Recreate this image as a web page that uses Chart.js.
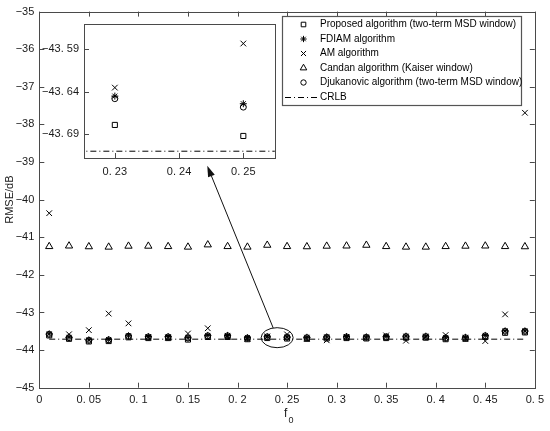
<!DOCTYPE html>
<html>
<head>
<meta charset="utf-8">
<script src="https://cdn.jsdelivr.net/npm/chart.js"></script>
<style>
    html, body { margin: 0; padding: 0; background: #fff; }
    #wrap { position: relative; width: 550px; height: 431px; }
    #mainChart { position: absolute; left: 0; top: 0; }
    #insetChart { position: absolute; left: 40px; top: 12px; }
</style>
</head>
<body>
<div id="wrap">
    <canvas id="mainChart" width="550" height="431"></canvas>
    <canvas id="insetChart" width="240" height="172"></canvas>
</div>
<script>
// f0 values and RMSE (dB)
const freqs = [0.01, 0.03, 0.05, 0.07, 0.09, 0.11, 0.13, 0.15, 0.17, 0.19, 0.21, 0.23, 0.25,
    0.27, 0.29, 0.31, 0.33, 0.35, 0.37, 0.39, 0.41, 0.43, 0.45, 0.47, 0.49];

const proposed = [-43.61, -43.70, -43.77, -43.76, -43.66, -43.68, -43.68, -43.72, -43.65, -43.65,
    -43.71, -43.679, -43.692, -43.70, -43.69, -43.68, -43.69, -43.68, -43.67, -43.67, -43.71, -43.70,
    -43.65, -43.54, -43.53];
const fdiam = [-43.57, -43.66, -43.73, -43.72, -43.62, -43.64, -43.64, -43.67, -43.61, -43.61,
    -43.67, -43.645, -43.654, -43.66, -43.65, -43.64, -43.65, -43.64, -43.63, -43.63, -43.67, -43.66,
    -43.61, -43.49, -43.49];
const am = [-40.36, -43.58, -43.47, -43.03, -43.29, -43.66, -43.67, -43.56, -43.42, -43.64,
    -43.70, -43.635, -43.583, -43.70, -43.74, -43.66, -43.68, -43.61, -43.75, -43.66, -43.60, -43.69,
    -43.76, -43.05, -37.69];
const candan = [-41.245, -41.23, -41.25, -41.26, -41.235, -41.235, -41.245, -41.26, -41.20, -41.245,
    -41.26, -41.21, -41.245, -41.25, -41.235, -41.23, -41.21, -41.245, -41.26, -41.26, -41.245, -41.235,
    -41.23, -41.245, -41.25];
const djukanovic = [-43.58, -43.67, -43.74, -43.73, -43.63, -43.65, -43.65, -43.68, -43.62, -43.62,
    -43.68, -43.648, -43.658, -43.67, -43.66, -43.65, -43.66, -43.65, -43.64, -43.64, -43.68, -43.67,
    -43.62, -43.50, -43.50];
const crlb = [-43.71, -43.71, -43.71, -43.71, -43.71, -43.71, -43.71, -43.71, -43.71, -43.71,
    -43.71, -43.71, -43.71, -43.71, -43.71, -43.71, -43.71, -43.71, -43.71, -43.71, -43.71, -43.71,
    -43.71, -43.71, -43.71];

const xTickValues = [0, 0.05, 0.1, 0.15, 0.2, 0.25, 0.3, 0.35, 0.4, 0.45, 0.5];
const xTickLabels = ['0', '0. 05', '0. 1', '0. 15', '0. 2', '0. 25', '0. 3', '0. 35', '0. 4', '0. 45', '0. 5'];
const yTickValues = [-45, -44, -43, -42, -41, -40, -39, -38, -37, -36, -35];
const yTickLabels = ['−45', '−44', '−43', '−42', '−41', '−40', '−39', '−38', '−37', '−36', '−35'];

const insetXTickValues = [0.23, 0.24, 0.25];
const insetXTickLabels = ['0. 23', '0. 24', '0. 25'];
const insetYTickValues = [-43.69, -43.64, -43.59];
const insetYTickLabels = ['−43. 69', '−43. 64', '−43. 59'];

const FONT = '"Liberation Sans", Arial, sans-serif';
const AXIS_COLOR = '#4a4a4a';
Chart.defaults.font.family = FONT;
Chart.defaults.font.size = 11;
Chart.defaults.color = '#1a1a1a';

function toPoints(values) {
    return freqs.map((f, i) => ({ x: f, y: values[i] }));
}

function buildDatasets() {
    const marker = (label, values, style, radius) => ({
        label: label,
        data: toPoints(values),
        showLine: false,
        pointStyle: style,
        pointRadius: radius,
        pointBorderWidth: 1,
        borderColor: '#000',
        backgroundColor: 'rgba(0,0,0,0)',
    });
    return [
        marker('Proposed algorithm (two-term MSD window)', proposed, 'rect', 3.6),
        marker('FDIAM algorithm', fdiam, 'star', 3.5),
        marker('AM algorithm', am, 'crossRot', 4),
        marker('Candan algorithm (Kaiser window)', candan, 'triangle', 4.2),
        marker('Djukanovic algorithm (two-term MSD window)', djukanovic, 'circle', 3),
        {
            label: 'CRLB',
            data: toPoints(crlb),
            showLine: true,
            pointRadius: 0,
            borderColor: '#000',
            borderWidth: 1,
            borderDash: [6, 3, 1, 3],
            backgroundColor: 'rgba(0,0,0,0)',
        },
    ];
}

// Box around the plot area with MATLAB style inward ticks
function framePlugin(sides, fillWhite) {
    return {
        id: 'frame',
        beforeDatasetsDraw(chart) {
            if (!fillWhite) return;
            const a = chart.chartArea;
            chart.ctx.save();
            chart.ctx.fillStyle = '#fff';
            chart.ctx.fillRect(a.left, a.top, a.right - a.left, a.bottom - a.top);
            chart.ctx.restore();
        },
        afterDatasetsDraw(chart) {
            const ctx = chart.ctx;
            const a = chart.chartArea;
            const len = 5;
            ctx.save();
            ctx.strokeStyle = AXIS_COLOR;
            ctx.lineWidth = 1;
            ctx.beginPath();
            chart.scales.x.ticks.forEach((t) => {
                const px = Math.round(chart.scales.x.getPixelForValue(t.value)) + 0.5;
                if (sides.includes('bottom')) { ctx.moveTo(px, a.bottom); ctx.lineTo(px, a.bottom - len); }
                if (sides.includes('top')) { ctx.moveTo(px, a.top); ctx.lineTo(px, a.top + len); }
            });
            chart.scales.y.ticks.forEach((t) => {
                const py = Math.round(chart.scales.y.getPixelForValue(t.value)) + 0.5;
                if (sides.includes('left')) { ctx.moveTo(a.left, py); ctx.lineTo(a.left + len, py); }
                if (sides.includes('right')) { ctx.moveTo(a.right, py); ctx.lineTo(a.right - len, py); }
            });
            ctx.stroke();
            ctx.strokeRect(Math.round(a.left) + 0.5, Math.round(a.top) + 0.5,
                Math.round(a.right - a.left), Math.round(a.bottom - a.top));
            ctx.restore();
        },
    };
}

// Ellipse around the zoomed region and the arrow to the inset
const zoomMarkPlugin = {
    id: 'zoomMark',
    afterDatasetsDraw(chart) {
        const ctx = chart.ctx;
        const xs = chart.scales.x;
        const ys = chart.scales.y;
        const cx = xs.getPixelForValue(0.24);
        const cy = ys.getPixelForValue(-43.67);
        const rx = 16;
        const ry = 10;
        const tipX = xs.getPixelForValue(0.1695);
        const tipY = ys.getPixelForValue(-39.1);

        ctx.save();
        ctx.strokeStyle = '#111';
        ctx.fillStyle = '#111';
        ctx.lineWidth = 1;
        ctx.beginPath();
        ctx.ellipse(cx, cy, rx, ry, 0, 0, Math.PI * 2);
        ctx.stroke();

        const dx = tipX - cx;
        const dy = tipY - cy;
        const t = 1 / Math.sqrt((dx / rx) * (dx / rx) + (dy / ry) * (dy / ry));
        const sx = cx + dx * t;
        const sy = cy + dy * t;
        const ang = Math.atan2(tipY - sy, tipX - sx);
        const headLen = 11;
        const headHalf = 3.6;
        const bx = tipX - Math.cos(ang) * headLen;
        const by = tipY - Math.sin(ang) * headLen;

        ctx.beginPath();
        ctx.moveTo(sx, sy);
        ctx.lineTo(bx, by);
        ctx.stroke();
        ctx.beginPath();
        ctx.moveTo(tipX, tipY);
        ctx.lineTo(bx + Math.sin(ang) * headHalf, by - Math.cos(ang) * headHalf);
        ctx.lineTo(bx - Math.sin(ang) * headHalf, by + Math.cos(ang) * headHalf);
        ctx.closePath();
        ctx.fill();
        ctx.restore();
    },
};

// Legend box in the upper right and the axis titles
const boxLegendPlugin = {
    id: 'boxLegend',
    afterDraw(chart) {
        const ctx = chart.ctx;
        const x0 = 282.5, y0 = 16.5, w = 239, h = 89;
        ctx.save();
        ctx.fillStyle = '#fff';
        ctx.fillRect(x0, y0, w, h);
        ctx.strokeStyle = '#555';
        ctx.lineWidth = 1.2;
        ctx.strokeRect(x0, y0, w, h);

        ctx.font = '10px ' + FONT;
        ctx.textBaseline = 'middle';
        ctx.textAlign = 'left';
        chart.data.datasets.forEach((ds, i) => {
            const rowY = 24.5 + i * 14.5;
            ctx.strokeStyle = '#000';
            ctx.fillStyle = 'rgba(0,0,0,0)';
            ctx.lineWidth = 1;
            if (ds.showLine) {
                ctx.save();
                ctx.setLineDash(ds.borderDash);
                ctx.beginPath();
                ctx.moveTo(285, rowY + 0.5);
                ctx.lineTo(319, rowY + 0.5);
                ctx.stroke();
                ctx.restore();
            } else {
                Chart.helpers.drawPoint(ctx, {
                    pointStyle: ds.pointStyle,
                    radius: ds.pointRadius * 0.9,
                    borderWidth: 1,
                    rotation: 0,
                }, 303.5, rowY);
            }
            ctx.fillStyle = '#000';
            ctx.fillText(ds.label, 320, rowY);
        });

        // y title
        const a = chart.chartArea;
        ctx.fillStyle = '#1a1a1a';
        ctx.save();
        ctx.translate(10, (a.top + a.bottom) / 2);
        ctx.rotate(-Math.PI / 2);
        ctx.textAlign = 'center';
        ctx.font = '11px ' + FONT;
        ctx.fillText('RMSE/dB', 0, 0);
        ctx.restore();

        // x title: f with subscript 0
        const mid = (a.left + a.right) / 2;
        ctx.textAlign = 'left';
        ctx.font = '12px ' + FONT;
        ctx.fillText('f', mid - 3, 414);
        ctx.font = '9px ' + FONT;
        ctx.fillText('0', mid + 1.5, 421);
        ctx.restore();
    },
};

function fixedTicks(values, labels) {
    return {
        afterBuildTicks: (scale) => {
            scale.ticks = values.map((v) => ({ value: v }));
        },
        ticks: {
            autoSkip: false,
            maxRotation: 0,
            callback: (value, index) => labels[index],
        },
    };
}

// Main chart
const mainX = fixedTicks(xTickValues, xTickLabels);
const mainY = fixedTicks(yTickValues, yTickLabels);
new Chart(document.getElementById('mainChart'), {
    type: 'scatter',
    data: { datasets: buildDatasets() },
    options: {
        responsive: false,
        animation: false,
        layout: { padding: { left: 0, top: 9, right: 14, bottom: 0 } },
        plugins: { legend: { display: false }, tooltip: { enabled: false } },
        scales: {
            x: {
                type: 'linear',
                min: 0,
                max: 0.5,
                grid: { display: false, drawTicks: false },
                border: { display: false },
                afterBuildTicks: mainX.afterBuildTicks,
                afterFit: (scale) => { scale.height = 43.3; },
                ticks: Object.assign({}, mainX.ticks, { padding: 6 }),
            },
            y: {
                type: 'linear',
                min: -45,
                max: -35,
                grid: { display: false, drawTicks: false },
                border: { display: false },
                afterBuildTicks: mainY.afterBuildTicks,
                afterFit: (scale) => { scale.width = 39.3; },
                ticks: Object.assign({}, mainY.ticks, { padding: 5 }),
            },
        },
    },
    plugins: [framePlugin(['bottom', 'top', 'left', 'right'], false), zoomMarkPlugin, boxLegendPlugin],
});

// Inset zoom of f0 = 0.23 ... 0.25
const insetX = fixedTicks(insetXTickValues, insetXTickLabels);
const insetY = fixedTicks(insetYTickValues, insetYTickLabels);
new Chart(document.getElementById('insetChart'), {
    type: 'scatter',
    data: { datasets: buildDatasets() },
    options: {
        responsive: false,
        animation: false,
        layout: { padding: { left: 0, top: 7, right: 5, bottom: 0 } },
        plugins: { legend: { display: false }, tooltip: { enabled: false } },
        scales: {
            x: {
                type: 'linear',
                min: 0.2252,
                max: 0.2549,
                grid: { display: false, drawTicks: false },
                border: { display: false },
                afterBuildTicks: insetX.afterBuildTicks,
                afterFit: (scale) => { scale.height = 26; },
                ticks: Object.assign({}, insetX.ticks, { padding: 7 }),
            },
            y: {
                type: 'linear',
                min: -43.718,
                max: -43.5595,
                grid: { display: false, drawTicks: false },
                border: { display: false },
                afterBuildTicks: insetY.afterBuildTicks,
                afterFit: (scale) => { scale.width = 44; },
                ticks: Object.assign({}, insetY.ticks, { padding: 5 }),
            },
        },
    },
    plugins: [framePlugin(['bottom', 'left'], true)],
});
</script>
</body>
</html>
